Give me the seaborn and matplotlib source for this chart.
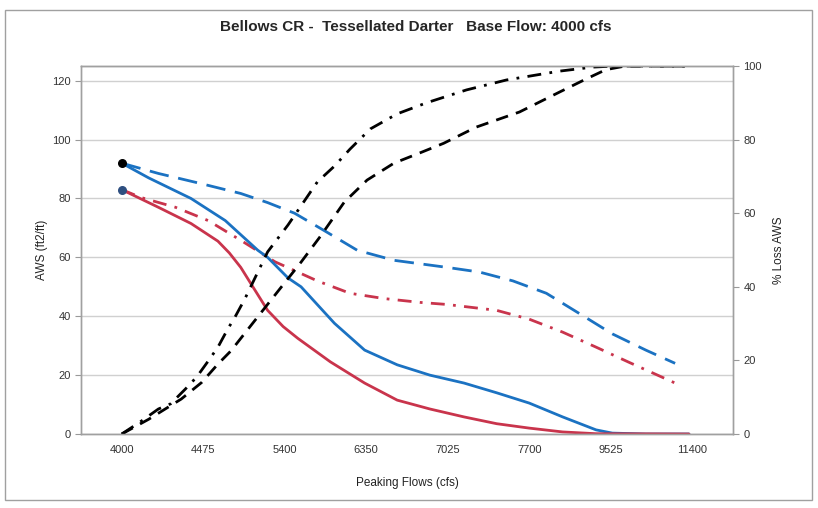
import numpy as np
import pandas as pd
import seaborn as sns
import matplotlib.pyplot as plt
from matplotlib.patches import Rectangle

# category labels on the x axis (evenly spaced)
flow_labels = ["4000", "4475", "5400", "6350", "7025", "7700", "9525", "11400"]

# positions along the category axis (0 = 4000 ... 7 = 11400)
blue_solid_x = [0, 0.33, 0.85, 1.27, 1.67, 1.79, 2.04, 2.2, 2.61, 2.98, 3.38, 3.78, 4.2, 4.6, 5.0, 5.41, 5.82, 6.02, 6.43, 6.96]
blue_solid_y = [92, 87, 80, 72.5, 62.4, 60, 53, 50, 37.6, 28.5, 23.5, 20, 17.3, 14, 10.5, 5.8, 1.4, 0.3, 0, 0]

red_solid_x = [0, 0.45, 0.85, 1.18, 1.32, 1.46, 1.62, 1.79, 1.98, 2.16, 2.56, 2.98, 3.38, 3.78, 4.2, 4.6, 5.0, 5.41, 5.82, 6.96]
red_solid_y = [83, 77, 71.5, 65.5, 61.5, 56.6, 49.5, 42, 36.5, 32.5, 24.5, 17.3, 11.5, 8.5, 5.8, 3.5, 2, 0.7, 0.1, 0]

blue_dash_x = [0, 0.45, 0.98, 1.46, 1.79, 2.12, 2.49, 2.89, 3.34, 3.99, 4.39, 4.8, 5.21, 5.61, 6.02, 6.43, 6.79]
blue_dash_y = [92, 88.5, 85, 81.7, 78.6, 75, 69, 62.4, 59, 56.6, 55, 52, 47.8, 41, 34, 28.5, 24]

red_dashdot_x = [0, 0.24, 0.66, 1.06, 1.46, 1.88, 2.4, 2.8, 3.22, 3.66, 3.99, 4.6, 5.0, 5.41, 5.82, 6.22, 6.63, 6.79]
red_dashdot_y = [83, 80.3, 77, 72.5, 65.8, 58.5, 52, 47.8, 46, 44.7, 44, 42, 39, 34.6, 29.5, 24.4, 19.3, 17.3]

# % loss AWS (right axis)
loss_dashdot_x = [0, 0.24, 0.45, 0.6, 0.78, 0.92, 1.06, 1.18, 1.3, 1.39, 1.51, 1.79, 2.04, 2.2, 2.4, 2.61,
                  2.8, 3.05, 3.38, 3.74, 4.23, 4.72, 5.37, 5.78, 6.06, 6.91]
loss_dashdot_y = [0, 3.5, 6.8, 8.2, 12.2, 15.5, 19.8, 23.6, 28.5, 31.8, 36.7, 49.5, 56.8, 62, 68.5, 72.8,
                  77.4, 82.9, 87, 90, 93.5, 96.2, 98.6, 99.7, 100, 100]

loss_dash_x = [0, 0.33, 0.73, 0.98, 1.18, 1.34, 1.55, 1.71, 1.91, 2.2, 2.44, 2.73, 3.01, 3.34, 3.66, 3.95,
               4.35, 4.88, 5.37, 5.7, 5.94, 6.18, 6.91]
loss_dash_y = [0, 4, 9.5, 14, 19, 22.6, 28.5, 33, 38.6, 46.7, 53.8, 63, 69, 73.6, 76.4, 79,
               83.4, 87.5, 92.9, 96.5, 99, 100, 100]

blue = "#1b72c2"
red = "#c9344c"

sns.set_style("white")
plt.rcParams['font.family'] = ['Liberation Sans', 'DejaVu Sans']

fig = plt.figure(figsize=(8.18, 5.08), dpi=100)
ax = fig.add_axes([81 / 818, 1 - 434 / 508, (733 - 81) / 818, (434 - 66) / 508])
ax2 = ax.twinx()

# outer chart border
fig.patches.append(Rectangle((5 / 818, 8 / 508), 807 / 818, 490 / 508, transform=fig.transFigure,
                             fill=False, edgecolor="#a0a0a0", linewidth=1))

lw = 2.0
sns.lineplot(x=blue_dash_x, y=blue_dash_y, ax=ax, color=blue, linewidth=lw,
             linestyle=(0, (7, 3.5)), errorbar=None)
sns.lineplot(x=red_dashdot_x, y=red_dashdot_y, ax=ax, color=red, linewidth=lw,
             linestyle=(0, (5, 3, 1, 3)), errorbar=None)
sns.lineplot(x=blue_solid_x, y=blue_solid_y, ax=ax, color=blue, linewidth=lw, errorbar=None)
sns.lineplot(x=red_solid_x, y=red_solid_y, ax=ax, color=red, linewidth=lw, errorbar=None)
ax.scatter([blue_solid_x[0]], [blue_solid_y[0]], s=30, color="black", zorder=5)
ax.scatter([red_solid_x[0]], [red_solid_y[0]], s=30, color="#2e4f80", zorder=5)

sns.lineplot(x=loss_dashdot_x, y=loss_dashdot_y, ax=ax2, color="black", linewidth=lw,
             linestyle=(0, (5, 3, 1, 3)), errorbar=None)
sns.lineplot(x=loss_dash_x, y=loss_dash_y, ax=ax2, color="black", linewidth=lw,
             linestyle=(0, (4.5, 3)), errorbar=None)

ax.set_xlim(-0.5, 7.5)
ax.set_ylim(0, 125)
ax2.set_ylim(0, 100)

ax.set_xticks(range(len(flow_labels)))
ax.set_xticklabels(flow_labels, fontsize=8, color="#333333")
ax.tick_params(axis="x", length=0, pad=8)
ax.set_xticks([-0.5, 1.5, 3.5, 5.5, 7.5], minor=True)
ax.tick_params(axis="x", which="minor", length=4, color="#999999", direction="out")

ax.set_yticks(range(0, 121, 20))
ax.tick_params(axis="y", labelsize=8, length=4, color="#999999", labelcolor="#333333", direction="out")
ax2.set_yticks(range(0, 101, 20))
ax2.tick_params(axis="y", labelsize=8, length=4, color="#999999", labelcolor="#333333", direction="out")

ax.grid(axis="y", color="#d0d0d0", linewidth=1)
ax.set_axisbelow(True)

for a in (ax, ax2):
    for side in a.spines:
        a.spines[side].set_color("#a0a0a0")
        a.spines[side].set_linewidth(1)
ax.spines["top"].set_color("#808080")

ax.set_xlabel("Peaking Flows (cfs)", fontsize=8.5, labelpad=16, color="#222222")
ax.set_ylabel("AWS (ft2/ft)", fontsize=8.5, labelpad=3, color="#222222")
ax2.set_ylabel("% Loss AWS", fontsize=8.5, labelpad=8, color="#222222")

fig.suptitle("Bellows CR -  Tessellated Darter   Base Flow: 4000 cfs", x=0.508, y=1 - 27 / 508,
             fontsize=11, fontweight="bold", va="center")

fig.savefig("out.png", dpi=100)
